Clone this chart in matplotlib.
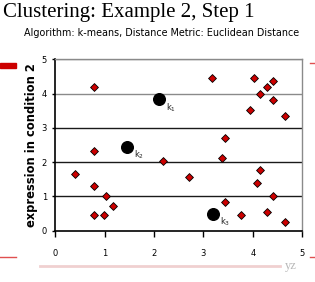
import matplotlib
matplotlib.use("Agg")
import matplotlib.pyplot as plt
from matplotlib.lines import Line2D
from matplotlib.patches import Rectangle

# data points (condition 1, condition 2)
pts_x = [0.78, 0.78, 0.39, 0.78, 1.02, 1.17, 0.78, 0.98,
         2.19, 2.71,
         3.17, 4.02, 4.28, 4.41, 4.15, 4.41, 3.95, 4.66,
         3.44, 3.37, 4.15, 4.08, 4.41, 3.44, 3.76, 4.28, 4.66]
pts_y = [4.18, 2.32, 1.65, 1.30, 1.01, 0.73, 0.45, 0.45,
         2.03, 1.57,
         4.46, 4.46, 4.18, 4.36, 4.00, 3.81, 3.52, 3.34,
         2.69, 2.13, 1.76, 1.38, 1.01, 0.83, 0.45, 0.54, 0.26]

# centroids
cent_x = [2.10, 1.45, 3.20]
cent_y = [3.84, 2.45, 0.50]
cent_labels = ["k$_1$", "k$_2$", "k$_3$"]

x_ticks = [0, 1, 2, 3, 4, 5]
y_ticks = [0, 1, 2, 3, 4, 5]

fig = plt.figure(figsize=(3.15, 2.82), dpi=100)
fig.patch.set_facecolor("white")

ax = fig.add_axes([0.176, 0.182, 0.783, 0.608])
ax.set_xlim(0, 5)
ax.set_ylim(0, 5)

for yv in y_ticks[1:]:
    col = "#8a8a8a" if yv in (4, 5) else "#1a1a1a"
    ax.axhline(yv, color=col, lw=1.0, zorder=1)

ax.scatter(pts_x, pts_y, marker="D", s=16, c="#cc0000",
           edgecolors="black", linewidths=0.6, zorder=3)
ax.scatter(cent_x, cent_y, marker="o", s=70, c="black", zorder=4)
for cx, cy, lab in zip(cent_x, cent_y, cent_labels):
    ax.annotate(lab, (cx, cy), xytext=(5, -8), textcoords="offset points",
                fontsize=6, color="#222222")

ax.set_xticks(x_ticks)
ax.set_yticks(y_ticks)
ax.tick_params(axis="x", direction="out", length=4, width=1, pad=9,
               labelsize=6)
ax.tick_params(axis="y", direction="out", length=2, width=1, pad=4,
               labelsize=6)

for side in ("left", "bottom"):
    ax.spines[side].set_color("black")
    ax.spines[side].set_linewidth(1.2)
for side in ("top", "right"):
    ax.spines[side].set_color("#8a8a8a")
    ax.spines[side].set_linewidth(1.0)

ax.set_ylabel("expression in condition 2", fontsize=8.3, fontweight="bold",
              labelpad=3)

fig.text(0.008, 0.955, "Clustering: Example 2, Step 1", family="Liberation Serif",
         fontsize=15, va="center", ha="left")
fig.text(0.076, 0.882, "Algorithm: k-means, Distance Metric: Euclidean Distance",
         fontsize=6.9, va="center", ha="left")

# slide decorations around the chart
fig.patches.append(Rectangle((0, 1 - 68 / 282), 16 / 315, 5 / 282,
                             transform=fig.transFigure, color="#cc0000"))
fig.lines.append(Line2D([310 / 315, 1], [1 - 63 / 282] * 2,
                        transform=fig.transFigure, color="#e05050", lw=1))
fig.lines.append(Line2D([0, 16 / 315], [1 - 257 / 282] * 2,
                        transform=fig.transFigure, color="#e05050", lw=1))
fig.lines.append(Line2D([310 / 315, 1], [1 - 257 / 282] * 2,
                        transform=fig.transFigure, color="#e05050", lw=1))
fig.lines.append(Line2D([40 / 315, 280 / 315], [1 - 266 / 282] * 2,
                        transform=fig.transFigure, color="#f0d0d0", lw=2))
fig.text(285 / 315, 1 - 266 / 282, "yz", fontsize=9, color="#b8b8b8",
         family="Liberation Serif", va="center")

fig.savefig("out.png", dpi=100)
